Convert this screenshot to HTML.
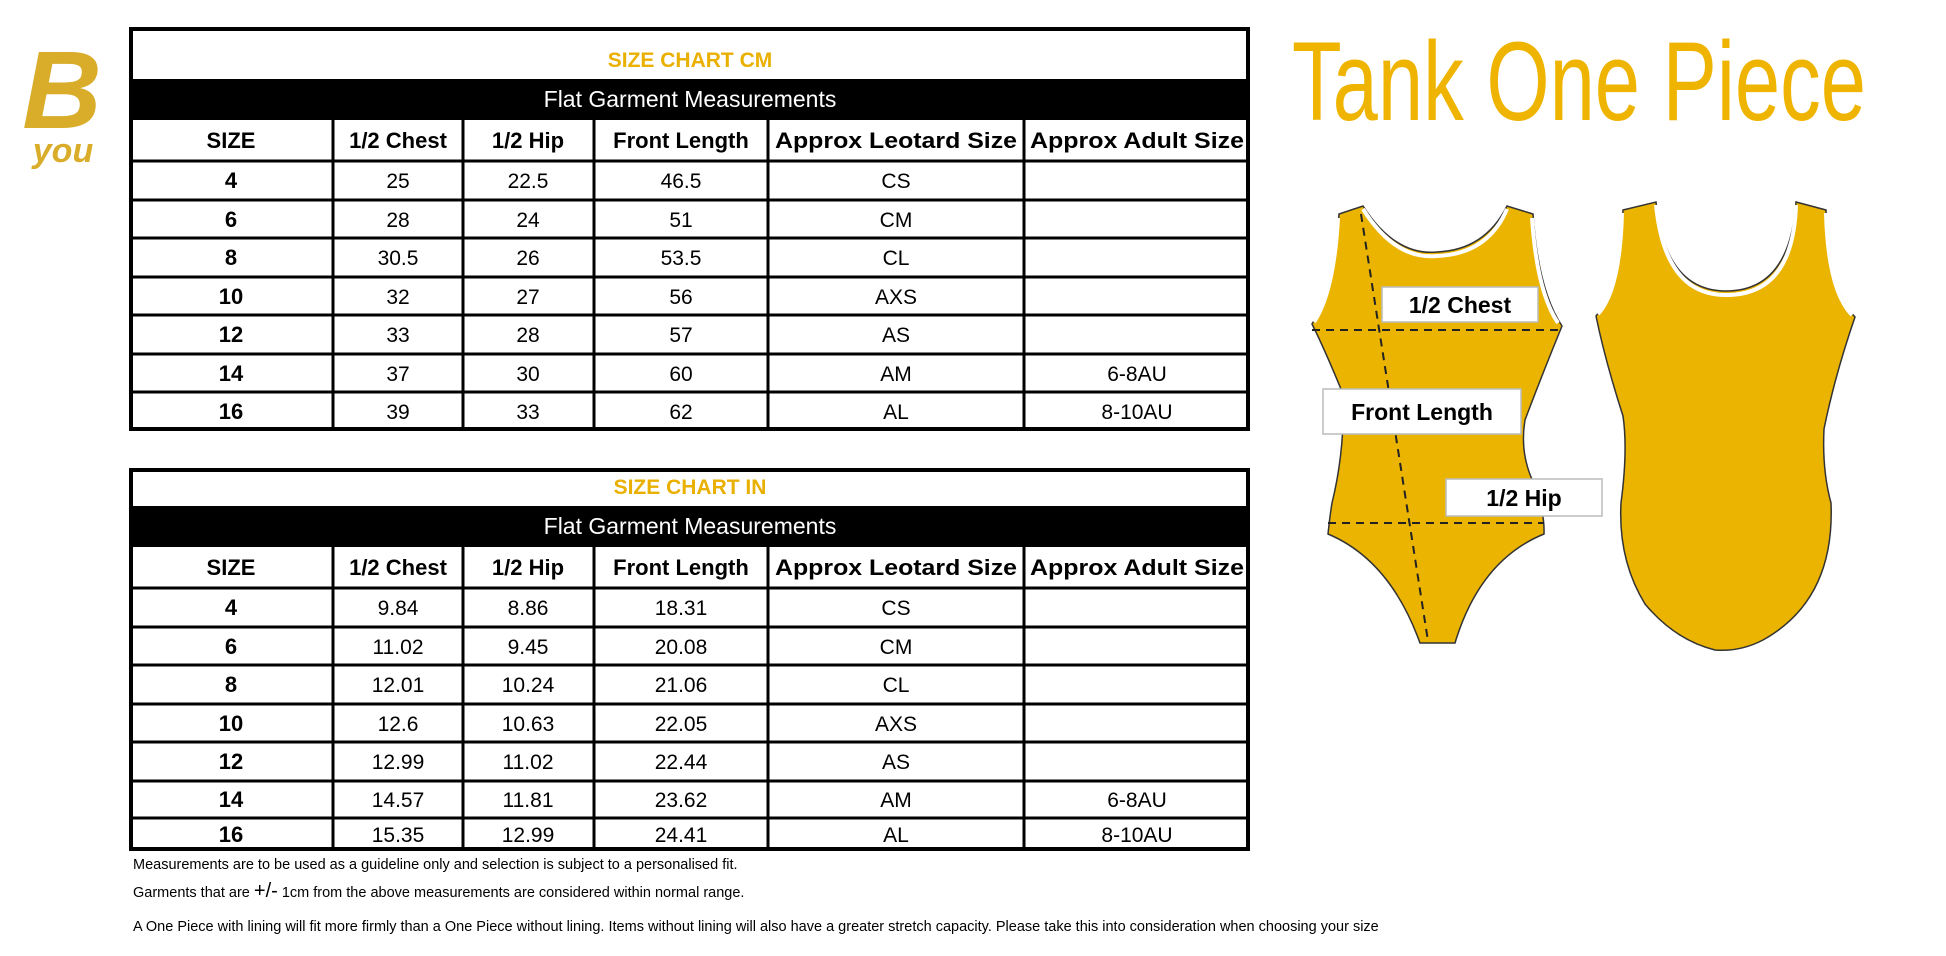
<!DOCTYPE html>
<html><head><meta charset="utf-8"><style>
html,body{margin:0;padding:0;background:#fff;}
svg{display:block;}
text{font-family:"Liberation Sans",sans-serif;}
</style></head><body>
<svg width="1946" height="956" viewBox="0 0 1946 956" xmlns="http://www.w3.org/2000/svg">
<rect width="1946" height="956" fill="#fff"/>
<text x="62" y="128" font-family="Liberation Serif" font-style="italic" font-weight="bold" font-size="110" fill="#D9AC2A" text-anchor="middle">B</text>
<text x="63" y="162" font-size="34" font-weight="bold" fill="#D9AC2A" text-anchor="middle" font-style="italic">you</text>

<g id="t1">
<rect x="131" y="29" width="1117" height="400" fill="#fff" stroke="#000" stroke-width="4"/>
<rect x="131" y="79" width="1117" height="41" fill="#000"/>
<text x="690" y="67" font-size="21" font-weight="bold" fill="#EAB000" text-anchor="middle">SIZE CHART CM</text>
<text x="690" y="107" font-size="23" fill="#fff" text-anchor="middle">Flat Garment Measurements</text>
<g stroke="#000" stroke-width="3">
<line x1="129" y1="161" x2="1250" y2="161"/><line x1="129" y1="200" x2="1250" y2="200"/><line x1="129" y1="238" x2="1250" y2="238"/><line x1="129" y1="277" x2="1250" y2="277"/><line x1="129" y1="315" x2="1250" y2="315"/><line x1="129" y1="354" x2="1250" y2="354"/><line x1="129" y1="392" x2="1250" y2="392"/>
<line x1="333" y1="120" x2="333" y2="431"/><line x1="463" y1="120" x2="463" y2="431"/><line x1="594" y1="120" x2="594" y2="431"/><line x1="768" y1="120" x2="768" y2="431"/><line x1="1024" y1="120" x2="1024" y2="431"/>
</g>
<g font-size="22" font-weight="bold" text-anchor="middle">
<text x="231" y="148">SIZE</text><text x="398" y="148">1/2 Chest</text><text x="528" y="148">1/2 Hip</text><text x="681" y="148">Front Length</text><text x="896" y="148" textLength="242" lengthAdjust="spacingAndGlyphs">Approx Leotard Size</text><text x="1137" y="148" textLength="214" lengthAdjust="spacingAndGlyphs">Approx Adult Size</text>
<text x="231" y="188">4</text><text x="231" y="227">6</text><text x="231" y="265">8</text><text x="231" y="304">10</text><text x="231" y="342">12</text><text x="231" y="381">14</text><text x="231" y="419">16</text>
</g>
<g font-size="21" text-anchor="middle">
<text x="398" y="188">25</text><text x="528" y="188">22.5</text><text x="681" y="188">46.5</text><text x="896" y="188">CS</text>
<text x="398" y="227">28</text><text x="528" y="227">24</text><text x="681" y="227">51</text><text x="896" y="227">CM</text>
<text x="398" y="265">30.5</text><text x="528" y="265">26</text><text x="681" y="265">53.5</text><text x="896" y="265">CL</text>
<text x="398" y="304">32</text><text x="528" y="304">27</text><text x="681" y="304">56</text><text x="896" y="304">AXS</text>
<text x="398" y="342">33</text><text x="528" y="342">28</text><text x="681" y="342">57</text><text x="896" y="342">AS</text>
<text x="398" y="381">37</text><text x="528" y="381">30</text><text x="681" y="381">60</text><text x="896" y="381">AM</text><text x="1137" y="381">6-8AU</text>
<text x="398" y="419">39</text><text x="528" y="419">33</text><text x="681" y="419">62</text><text x="896" y="419">AL</text><text x="1137" y="419">8-10AU</text>
</g>
</g>

<g id="t2">
<rect x="131" y="470" width="1117" height="379" fill="#fff" stroke="#000" stroke-width="4"/>
<rect x="131" y="506" width="1117" height="41" fill="#000"/>
<text x="690" y="494" font-size="21" font-weight="bold" fill="#EAB000" text-anchor="middle">SIZE CHART IN</text>
<text x="690" y="534" font-size="23" fill="#fff" text-anchor="middle">Flat Garment Measurements</text>
<g stroke="#000" stroke-width="3">
<line x1="129" y1="588" x2="1250" y2="588"/><line x1="129" y1="627" x2="1250" y2="627"/><line x1="129" y1="665" x2="1250" y2="665"/><line x1="129" y1="704" x2="1250" y2="704"/><line x1="129" y1="742" x2="1250" y2="742"/><line x1="129" y1="781" x2="1250" y2="781"/><line x1="129" y1="818" x2="1250" y2="818"/>
<line x1="333" y1="547" x2="333" y2="851"/><line x1="463" y1="547" x2="463" y2="851"/><line x1="594" y1="547" x2="594" y2="851"/><line x1="768" y1="547" x2="768" y2="851"/><line x1="1024" y1="547" x2="1024" y2="851"/>
</g>
<g font-size="22" font-weight="bold" text-anchor="middle">
<text x="231" y="575">SIZE</text><text x="398" y="575">1/2 Chest</text><text x="528" y="575">1/2 Hip</text><text x="681" y="575">Front Length</text><text x="896" y="575" textLength="242" lengthAdjust="spacingAndGlyphs">Approx Leotard Size</text><text x="1137" y="575" textLength="214" lengthAdjust="spacingAndGlyphs">Approx Adult Size</text>
<text x="231" y="615">4</text><text x="231" y="654">6</text><text x="231" y="692">8</text><text x="231" y="731">10</text><text x="231" y="769">12</text><text x="231" y="807">14</text><text x="231" y="842">16</text>
</g>
<g font-size="21" text-anchor="middle">
<text x="398" y="615">9.84</text><text x="528" y="615">8.86</text><text x="681" y="615">18.31</text><text x="896" y="615">CS</text>
<text x="398" y="654">11.02</text><text x="528" y="654">9.45</text><text x="681" y="654">20.08</text><text x="896" y="654">CM</text>
<text x="398" y="692">12.01</text><text x="528" y="692">10.24</text><text x="681" y="692">21.06</text><text x="896" y="692">CL</text>
<text x="398" y="731">12.6</text><text x="528" y="731">10.63</text><text x="681" y="731">22.05</text><text x="896" y="731">AXS</text>
<text x="398" y="769">12.99</text><text x="528" y="769">11.02</text><text x="681" y="769">22.44</text><text x="896" y="769">AS</text>
<text x="398" y="807">14.57</text><text x="528" y="807">11.81</text><text x="681" y="807">23.62</text><text x="896" y="807">AM</text><text x="1137" y="807">6-8AU</text>
<text x="398" y="842">15.35</text><text x="528" y="842">12.99</text><text x="681" y="842">24.41</text><text x="896" y="842">AL</text><text x="1137" y="842">8-10AU</text>
</g>
</g>

<g font-size="14.5" fill="#000">
<text x="133" y="869">Measurements are to be used as a guideline only and selection is subject to a personalised fit.</text>
<text x="133" y="897">Garments that are  <tspan font-size="20">+/-</tspan>  1cm from the above measurements are considered within normal range.</text>
<text x="133" y="931">A One Piece with lining will fit more firmly than a One Piece without lining.  Items without lining will also have a greater stretch capacity. Please take this into consideration when choosing your size</text>
</g>

<text x="1292" y="120" font-family="Liberation Sans Narrow, Liberation Sans" font-size="112" fill="#EFB400" textLength="574" lengthAdjust="spacingAndGlyphs">Tank One Piece</text>

<path d="M1339,214 L1363,206 Q1395,256 1437,252 Q1485,250 1507,206 L1533,214 Q1538,290 1562,326 Q1540,380 1525,420 Q1520,450 1531,477 Q1545,510 1544,534 Q1480,560 1455,643 L1420,643 Q1390,560 1328,534 Q1330,515 1332,503 Q1345,450 1343,394 Q1325,350 1312,324 Q1335,290 1339,214 Z" fill="#EBB400" stroke="#333" stroke-width="1.5"/>
<path d="M1363,209 Q1395,260 1437,256 Q1488,254 1507,209" fill="none" stroke="#fff" stroke-width="4"/>
<path d="M1338,218 Q1334,292 1314,322 M1532,218 Q1537,292 1558,323" fill="none" stroke="#fff" stroke-width="4"/>
<g stroke="#222" stroke-width="2" stroke-dasharray="8,6" fill="none">
<line x1="1312" y1="330" x2="1562" y2="330"/><line x1="1328" y1="523" x2="1544" y2="523"/><line x1="1361" y1="214" x2="1428" y2="641"/>
</g>
<rect x="1382" y="287" width="156" height="35" fill="#fff" stroke="#bbb" stroke-width="1.5"/>
<text x="1460" y="313" font-size="23" font-weight="bold" text-anchor="middle">1/2 Chest</text>
<rect x="1323" y="389" width="198" height="45" fill="#fff" stroke="#bbb" stroke-width="1.5"/>
<text x="1422" y="420" font-size="23" font-weight="bold" text-anchor="middle">Front Length</text>
<rect x="1446" y="479" width="156" height="37" fill="#fff" stroke="#bbb" stroke-width="1.5"/>
<text x="1524" y="506" font-size="23" font-weight="bold" text-anchor="middle">1/2 Hip</text>

<path d="M1623,210 L1656,202 Q1665,291 1726,291 Q1790,291 1796,202 L1826,210 Q1828,290 1855,317 Q1835,375 1824,429 Q1822,470 1831,503 Q1835,600 1763,640 Q1740,652 1715,650 Q1675,640 1645,604 Q1618,560 1621,503 Q1628,450 1623,416 Q1605,360 1596,316 Q1620,290 1623,210 Z" fill="#EBB400" stroke="#333" stroke-width="1.5"/>
<path d="M1656,205 Q1665,295 1726,295 Q1793,295 1796,205" fill="none" stroke="#fff" stroke-width="4"/>
<path d="M1622,213 Q1620,290 1598,314 M1826,213 Q1828,290 1852,315" fill="none" stroke="#fff" stroke-width="4"/>
</svg>
</body></html>
